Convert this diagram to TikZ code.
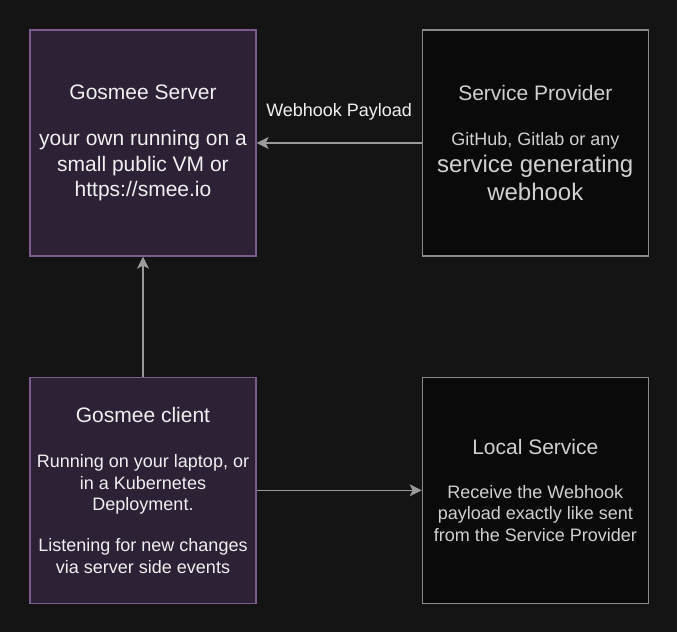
\documentclass[tikz,border=0pt]{standalone}
\usepackage{fontspec}
\setmainfont{Liberation Sans}
\usetikzlibrary{positioning, arrows.meta}
\definecolor{bgdark}{HTML}{141414}
\definecolor{gosfill}{HTML}{2D2136}
\definecolor{gosline}{HTML}{7B5C8C}
\definecolor{extfill}{HTML}{0A0A0A}
\definecolor{extline}{HTML}{8A8A8A}
\definecolor{arrgray}{HTML}{9A9A9A}
\definecolor{gostext}{HTML}{F0F0F0}
\definecolor{exttext}{HTML}{D0D0D0}
\tikzset{
    gosbox/.style={rectangle, draw=gosline, fill=gosfill, line width=1.3pt, minimum width=226pt, minimum height=226pt, align=center, text=gostext, inner sep=0pt},
    extbox/.style={rectangle, draw=extline, fill=extfill, line width=1.3pt, minimum width=226pt, minimum height=226pt, align=center, text=exttext, inner sep=0pt},
    arr/.style={-{Stealth[length=12pt, width=12pt, inset=3pt]}, color=arrgray, line width=1.3pt},
    arrlbl/.style={font=\fontsize{18}{22}\selectfont, text=gostext}
}
\begin{document}
\begin{tikzpicture}[x=1pt, y=-1pt]
    \fill[bgdark] (0,0) rectangle (677,632);
    \node[gosbox, font=\fontsize{21}{25.5}\selectfont] at (143,143) (server) {Gosmee Server\\[20.5pt]your own running on a\\small public VM or\\https://smee.io};
    \node[extbox, font=\fontsize{18}{22}\selectfont, right=165pt of server] (provider) {{\fontsize{21}{25}\selectfont Service Provider}\\[23pt]GitHub, Gitlab or any\\[5pt]{\fontsize{24}{28}\selectfont service generating}\\[5pt]{\fontsize{24}{28}\selectfont webhook}};
    \node[gosbox, font=\fontsize{18}{21.5}\selectfont, below=120pt of server] (client) {{\fontsize{21}{25}\selectfont Gosmee client}\\[23.5pt]Running on your laptop, or\\in a Kubernetes\\Deployment.\\[19.5pt]Listening for new changes\\via server side events};
    \node[extbox, font=\fontsize{18}{21.5}\selectfont, right=165pt of client] (local) {{\fontsize{21}{25}\selectfont Local Service}\\[22.5pt]Receive the Webhook\\payload exactly like sent\\from the Service Provider};
    \draw[arr] (provider) -- node[arrlbl, midway, yshift=31pt] {Webhook Payload} (server);
    \draw[arr] (client) -- (server);
    \draw[arr] (client) -- (local);
\end{tikzpicture}
\end{document}
